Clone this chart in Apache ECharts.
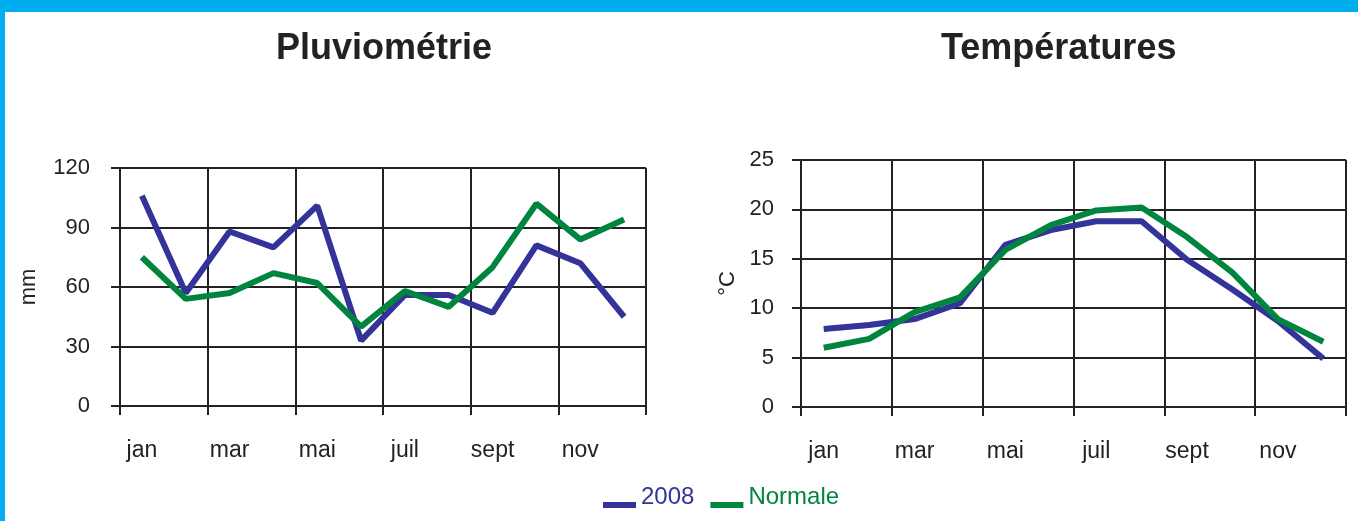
<!DOCTYPE html>
<html>
<head>
<meta charset="utf-8">
<script src="https://cdn.jsdelivr.net/npm/echarts@6/dist/echarts.min.js"></script>
<style>
  html, body { margin: 0; padding: 0; background: #fff; }
  #chart { width: 1358px; height: 521px; }
</style>
</head>
<body>
<div id="chart"></div>
<script>
// mois (un libellé sur deux affiché)
var months = ["jan", "fév", "mar", "avr", "mai", "juin", "juil", "août", "sept", "oct", "nov", "déc"];
// pluviométrie en mm
var rain2008 = [106, 57, 88, 80, 101, 33, 56, 56, 47, 81, 72, 45];
var rainNormal = [75, 54, 57, 67, 62, 40, 58, 50, 70, 102, 84, 94];
// températures en °C
var temp2008 = [7.9, 8.3, 8.9, 10.5, 16.4, 17.9, 18.8, 18.8, 14.9, 11.9, 8.7, 4.9];
var tempNormal = [6.0, 6.9, 9.6, 11.1, 15.9, 18.4, 19.9, 20.2, 17.2, 13.6, 8.9, 6.6];

var blue = "#333399";
var green = "#00853e";
var ink = "#222";
var font = "'Liberation Sans', Arial, sans-serif";

var myChart = echarts.init(document.getElementById("chart"));

function xAxisCfg(grid) {
  return {
    type: "category",
    gridIndex: grid,
    data: months,
    boundaryGap: true,
    axisLine: { show: true, lineStyle: { color: ink, width: 2 } },
    axisTick: { show: true, interval: 1, length: 9, lineStyle: { color: ink, width: 2 } },
    axisLabel: { interval: 1, margin: 33, color: ink, fontSize: 23, fontFamily: font },
    splitLine: { show: true, interval: 1, lineStyle: { color: ink, width: 2 } }
  };
}

function yAxisCfg(grid, max, step, name, gap, margin) {
  return {
    type: "value",
    gridIndex: grid,
    min: 0,
    max: max,
    interval: step,
    name: name,
    nameLocation: "middle",
    nameRotate: 90,
    nameGap: gap,
    nameTextStyle: { color: ink, fontSize: 22, fontFamily: font },
    axisLine: { show: true, lineStyle: { color: ink, width: 2 } },
    axisTick: { show: true, length: 9, lineStyle: { color: ink, width: 2 } },
    axisLabel: { margin: margin, color: ink, fontSize: 22, fontFamily: font },
    splitLine: { show: true, lineStyle: { color: ink, width: 2 } }
  };
}

function lineSeries(name, data, color, idx) {
  return {
    name: name,
    type: "line",
    xAxisIndex: idx,
    yAxisIndex: idx,
    data: data,
    showSymbol: false,
    symbol: "none",
    color: color,
    lineStyle: { color: color, width: 6 }
  };
}

// trait de légende posé sous le milieu du texte
var legendIcon = "path://M0,0 L0.01,0 L0.01,0.01 Z M0,16 L33,16 L33,22 L0,22 Z";

myChart.setOption({
  animation: false,
  backgroundColor: "#fff",
  title: [
    { text: "Pluviométrie", left: 276, top: 31, padding: 0,
      textStyle: { color: ink, fontSize: 36, fontWeight: "bold", fontFamily: font } },
    { text: "Températures", left: 941, top: 31, padding: 0,
      textStyle: { color: ink, fontSize: 36, fontWeight: "bold", fontFamily: font } }
  ],
  legend: {
    left: 603,
    top: 485,
    icon: legendIcon,
    itemWidth: 33,
    itemHeight: 22,
    itemGap: 16,
    padding: 0,
    textStyle: { fontSize: 24, fontFamily: font },
    data: [
      { name: "2008", textStyle: { color: blue } },
      { name: "Normale", textStyle: { color: green } }
    ]
  },
  grid: [
    { left: 120, right: 712, top: 168, bottom: 115 },
    { left: 801, right: 12, top: 160, bottom: 114 }
  ],
  xAxis: [xAxisCfg(0), xAxisCfg(1)],
  yAxis: [
    yAxisCfg(0, 120, 30, "mm", 80, 30),
    yAxisCfg(1, 25, 5, "°C", 62, 27)
  ],
  series: [
    lineSeries("2008", rain2008, blue, 0),
    lineSeries("Normale", rainNormal, green, 0),
    lineSeries("2008", temp2008, blue, 1),
    lineSeries("Normale", tempNormal, green, 1)
  ],
  // cadre bleu (bandeau du haut + bord gauche)
  graphic: [
    { type: "rect", left: 0, top: 0, shape: { width: 1358, height: 12 }, style: { fill: "#00aeef" } },
    { type: "rect", left: 0, top: 0, shape: { width: 5, height: 521 }, style: { fill: "#00aeef" } }
  ]
});
</script>
</body>
</html>
